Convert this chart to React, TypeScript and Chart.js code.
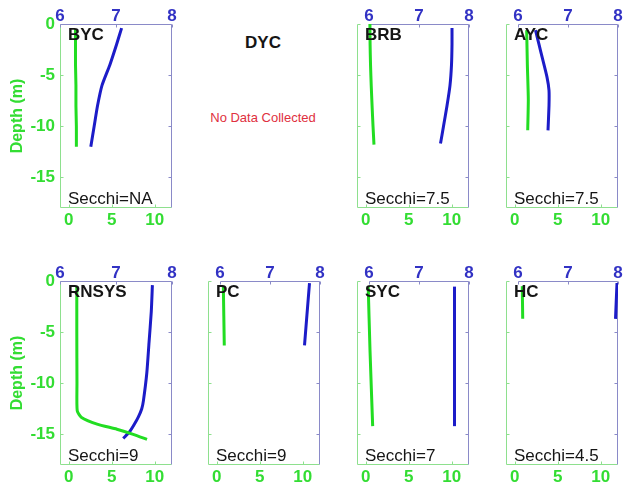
import React, { useEffect, useRef } from "react";
import { Chart, registerables } from "chart.js";
Chart.register(...registerables);

// ---------- data ----------
const GREEN_TICKS = [0, 5, 10];
const BLUE_TICKS = [6, 7, 8];
const DEPTH_TICKS = [0, -5, -10, -15];

const BYC_G_DEPTH = [0.5, 2, 4, 6, 8, 10, 12];
const BYC_G = [0.8, 0.8, 0.8, 0.85, 0.85, 0.9, 0.9];
const BYC_B_DEPTH = [0.4, 2, 4, 6, 8, 10, 12];
const BYC_B = [7.1, 7.01, 6.89, 6.75, 6.67, 6.61, 6.55];

const BRB_G_DEPTH = [0, 2, 4, 6, 8, 10, 11.8];
const BRB_G = [0.5, 0.52, 0.57, 0.65, 0.75, 0.86, 0.97];
const BRB_B_DEPTH = [0.4, 2, 4, 6, 8, 10, 11.7];
const BRB_B = [7.66, 7.66, 7.65, 7.62, 7.56, 7.49, 7.43];

const AYC_G_DEPTH = [0.6, 4, 7.4, 10.4];
const AYC_G = [1.4, 1.48, 1.59, 1.52];
const AYC_B_DEPTH = [0.6, 2, 3.2, 5.2, 6.5, 8, 10.4];
const AYC_B = [6.35, 6.42, 6.48, 6.58, 6.62, 6.62, 6.6];

const RNSYS_G_DEPTH = [0.5, 5, 10, 12.7, 13.35, 14.0, 14.5, 15.0, 15.5];
const RNSYS_G = [0.95, 0.95, 0.97, 1.0, 1.5, 3.3, 5.6, 7.5, 9.1];
const RNSYS_B_DEPTH = [0.4, 3, 6, 9, 11.7, 12.5, 13.3, 14, 14.7, 15.4];
const RNSYS_B = [7.65, 7.63, 7.59, 7.55, 7.49, 7.46, 7.4, 7.33, 7.25, 7.13];

const PC_G_DEPTH = [0.5, 6.3];
const PC_G = [0.78, 0.89];
const PC_B_DEPTH = [0.2, 6.3];
const PC_B = [7.79, 7.69];

const SYC_G_DEPTH = [0.5, 6.8, 14.2];
const SYC_G = [0.3, 0.51, 0.82];
const SYC_B_DEPTH = [0.55, 14.2];
const SYC_B = [7.71, 7.71];

const HC_G_DEPTH = [0.5, 3.7];
const HC_G = [0.89, 0.94];
const HC_B_DEPTH = [0.2, 3.7];
const HC_B = [7.98, 7.95];

// ---------- styles ----------
const FONT = '"Liberation Sans", Arial, Helvetica, sans-serif';
const GREEN_LINE = "#22dd22";
const BLUE_LINE = "#1c1cc8";
const GREEN_TXT = "#33dd33";
const BLUE_TXT = "#3232c4";
const GREEN_AXIS = "#8ee08e";
const BLUE_AXIS = "#8a8ac8";

const COL_LEFT = [60, 208, 357, 506];
const ROW_TOP = [24, 281];
const PLOT_W = 112;
const PLOT_H = 184;

type PanelProps = {
  name: string;
  secchi: string;
  col: number;
  row: number;
  gDepth: number[];
  g: number[];
  bDepth: number[];
  b: number[];
};

function Panel(p: PanelProps) {
  const ref = useRef<HTMLCanvasElement | null>(null);
  const padLeft = p.col === 0 ? 60 : 10;
  const padRight = 6;
  const padTop = 24;
  const padBottom = p.row === 0 ? 30 : 25;
  const L = COL_LEFT[p.col];
  const T = ROW_TOP[p.row];
  const cw = padLeft + PLOT_W + padRight;
  const ch = padTop + PLOT_H + padBottom;
  const blueMin = p.col === 0 ? 6 : 8 - PLOT_W / 50;

  useEffect(() => {
    if (!ref.current) return;
    const frame = {
      id: "frame" + p.name,
      beforeDatasetsDraw(chart: any) {
        const ctx = chart.ctx;
        const a = chart.chartArea;
        const x2 = chart.scales.x2;
        const xs = chart.scales.x;
        const ys = chart.scales.y;
        const l = Math.round(a.left) + 0.5;
        const r = Math.round(a.right) - 0.5;
        const t = Math.round(a.top) + 0.5;
        const bt = Math.round(a.bottom) - 0.5;
        ctx.save();
        ctx.lineWidth = 1;
        ctx.strokeStyle = GREEN_AXIS;
        ctx.beginPath();
        ctx.moveTo(l, t);
        ctx.lineTo(l, bt);
        ctx.lineTo(r, bt);
        ctx.stroke();
        ctx.beginPath();
        DEPTH_TICKS.forEach((v) => {
          const y = Math.round(ys.getPixelForValue(v)) + 0.5;
          ctx.moveTo(l, y);
          ctx.lineTo(l + 3, y);
        });
        GREEN_TICKS.forEach((v) => {
          const x = Math.round(xs.getPixelForValue(v)) + 0.5;
          ctx.moveTo(x, bt);
          ctx.lineTo(x, bt - 3);
        });
        ctx.stroke();
        ctx.strokeStyle = BLUE_AXIS;
        const x6 = Math.round(x2.getPixelForValue(6)) + 0.5;
        ctx.beginPath();
        ctx.moveTo(x6, t);
        ctx.lineTo(r, t);
        ctx.lineTo(r, bt);
        ctx.stroke();
        ctx.beginPath();
        DEPTH_TICKS.forEach((v) => {
          const y = Math.round(ys.getPixelForValue(v)) + 0.5;
          ctx.moveTo(r, y);
          ctx.lineTo(r - 3, y);
        });
        BLUE_TICKS.forEach((v) => {
          const x = Math.round(x2.getPixelForValue(v)) + 0.5;
          ctx.moveTo(x, t);
          ctx.lineTo(x, t + 3);
        });
        ctx.stroke();
        ctx.restore();
      },
      afterDatasetsDraw(chart: any) {
        const ctx = chart.ctx;
        const a = chart.chartArea;
        ctx.save();
        ctx.fillStyle = "#151515";
        ctx.textBaseline = "middle";
        ctx.textAlign = "left";
        ctx.font = `bold 17px ${FONT}`;
        ctx.fillText(p.name, a.left + 8, a.top + 11);
        ctx.font = `17px ${FONT}`;
        ctx.fillText("Secchi=" + p.secchi, a.left + 8, a.bottom - 9);
        ctx.restore();
      },
    };

    const tickFont = { family: FONT, size: 17, weight: "bold", lineHeight: 1 };

    const chart = new Chart(ref.current, {
      type: "line",
      data: {
        datasets: [
          {
            data: p.g.map((v, i) => ({ x: v, y: -p.gDepth[i] })),
            xAxisID: "x",
            yAxisID: "y",
            borderColor: GREEN_LINE,
            borderWidth: 3,
            pointRadius: 0,
            tension: 0.2,
            fill: false,
          },
          {
            data: p.b.map((v, i) => ({ x: v, y: -p.bDepth[i] })),
            xAxisID: "x2",
            yAxisID: "y",
            borderColor: BLUE_LINE,
            borderWidth: 3,
            pointRadius: 0,
            tension: 0.2,
            fill: false,
          },
        ],
      },
      options: {
        responsive: false,
        animation: false,
        devicePixelRatio: 1,
        layout: { padding: 0 },
        plugins: { legend: { display: false }, tooltip: { enabled: false }, title: { display: false } },
        scales: {
          x: {
            type: "linear",
            position: "bottom",
            min: -1,
            max: 12,
            grid: { display: false, drawTicks: false },
            border: { display: false },
            ticks: {
              color: GREEN_TXT,
              font: tickFont,
              padding: 4,
              maxRotation: 0,
              autoSkip: false,
              callback: (v: any) => String(v),
            },
            afterBuildTicks: (s: any) => {
              s.ticks = GREEN_TICKS.map((v) => ({ value: v }));
            },
            afterFit: (s: any) => {
              s.height = padBottom;
            },
          },
          x2: {
            type: "linear",
            position: "top",
            min: blueMin,
            max: 8,
            grid: { display: false, drawTicks: false },
            border: { display: false },
            ticks: {
              color: BLUE_TXT,
              font: tickFont,
              padding: -1,
              maxRotation: 0,
              autoSkip: false,
              callback: (v: any) => String(v),
            },
            afterBuildTicks: (s: any) => {
              s.ticks = BLUE_TICKS.map((v) => ({ value: v }));
            },
            afterFit: (s: any) => {
              s.height = padTop;
            },
          },
          y: {
            type: "linear",
            position: "left",
            min: -18,
            max: 0,
            grid: { display: false, drawTicks: false },
            border: { display: false },
            title: {
              display: p.col === 0,
              text: "Depth (m)",
              color: GREEN_TXT,
              font: { family: FONT, size: 16, weight: "bold" },
              padding: { top: 8, bottom: 0 },
            },
            ticks: {
              display: p.col === 0,
              color: GREEN_TXT,
              font: tickFont,
              padding: 5,
              autoSkip: false,
              callback: (v: any) => String(v),
            },
            afterBuildTicks: (s: any) => {
              s.ticks = DEPTH_TICKS.map((v) => ({ value: v }));
            },
            afterFit: (s: any) => {
              s.width = padLeft;
            },
          },
          y2: {
            type: "linear",
            position: "right",
            min: -18,
            max: 0,
            grid: { display: false, drawTicks: false },
            border: { display: false },
            ticks: { display: false },
            afterFit: (s: any) => {
              s.width = padRight;
            },
          },
        },
      } as any,
      plugins: [frame as any],
    });
    return () => chart.destroy();
  }, []);

  return (
    <canvas
      ref={ref}
      width={cw}
      height={ch}
      style={{ position: "absolute", left: L - padLeft, top: T - padTop, width: cw, height: ch }}
    />
  );
}

export default function App() {
  return (
    <div
      style={{
        position: "absolute",
        left: 0,
        top: 0,
        width: 624,
        height: 490,
        overflow: "hidden",
        background: "#ffffff",
        fontFamily: FONT,
      }}
    >
      <Panel name="BYC" secchi="NA" col={0} row={0} gDepth={BYC_G_DEPTH} g={BYC_G} bDepth={BYC_B_DEPTH} b={BYC_B} />
      <div
        style={{
          position: "absolute",
          left: 263,
          top: 43,
          transform: "translate(-50%, -50%)",
          fontWeight: "bold",
          fontSize: 17,
          color: "#151515",
          whiteSpace: "nowrap",
        }}
      >
        DYC
      </div>
      <div
        style={{
          position: "absolute",
          left: 263,
          top: 117,
          transform: "translate(-50%, -50%)",
          fontSize: 13,
          color: "#e03040",
          whiteSpace: "nowrap",
        }}
      >
        No Data Collected
      </div>
      <Panel name="BRB" secchi="7.5" col={2} row={0} gDepth={BRB_G_DEPTH} g={BRB_G} bDepth={BRB_B_DEPTH} b={BRB_B} />
      <Panel name="AYC" secchi="7.5" col={3} row={0} gDepth={AYC_G_DEPTH} g={AYC_G} bDepth={AYC_B_DEPTH} b={AYC_B} />
      <Panel name="RNSYS" secchi="9" col={0} row={1} gDepth={RNSYS_G_DEPTH} g={RNSYS_G} bDepth={RNSYS_B_DEPTH} b={RNSYS_B} />
      <Panel name="PC" secchi="9" col={1} row={1} gDepth={PC_G_DEPTH} g={PC_G} bDepth={PC_B_DEPTH} b={PC_B} />
      <Panel name="SYC" secchi="7" col={2} row={1} gDepth={SYC_G_DEPTH} g={SYC_G} bDepth={SYC_B_DEPTH} b={SYC_B} />
      <Panel name="HC" secchi="4.5" col={3} row={1} gDepth={HC_G_DEPTH} g={HC_G} bDepth={HC_B_DEPTH} b={HC_B} />
    </div>
  );
}
